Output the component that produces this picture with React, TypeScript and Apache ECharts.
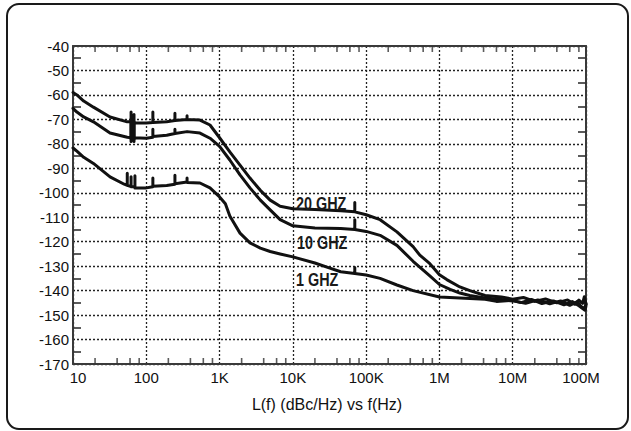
import React, { useEffect, useRef } from "react";
import * as echarts from "echarts";

// Axis ticks / labels
const xMajorValues = [10, 100, 1e3, 1e4, 1e5, 1e6, 1e7, 1e8];
const xMajorLabels = ["10", "100", "1K", "10K", "100K", "1M", "10M", "100M"];
const xMinorFactors = [2, 4, 6, 8];
const yMin = -170;
const yMax = -40;
const yStep = 10;

// Series: [frequency Hz, L(f) dBc/Hz]
const curve20GHz: [number, number][] = [
  [10, -59], [11.3, -60], [14, -62.5], [19, -65], [32, -69], [55, -71],
  [62, -71], [62, -67], [62, -78], [62, -71],
  [68, -71.5], [68, -68], [68, -78], [68, -71.5],
  [100, -71.5],
  [123, -71.3], [123, -67], [123, -71.3],
  [190, -71],
  [246, -70.5], [246, -67.5], [246, -70.5],
  [360, -70], [360, -68.5], [360, -70],
  [540, -70.3], [740, -72.3], [1000, -77.5], [1380, -83.3], [1900, -88.7],
  [2600, -94], [3600, -99], [4900, -103], [6700, -105.5], [10000, -106.5],
  [20000, -106.8], [45000, -107.4], [70000, -107.8], [70000, -104], [70000, -107.8],
  [100000, -109], [155000, -111], [263000, -116], [437000, -122], [540000, -125.5],
  [740000, -129], [1e6, -133.5], [1.26e6, -135.5], [1.9e6, -138.5], [2.6e6, -140],
  [4.2e6, -142], [7e6, -142.6], [1e7, -143.5], [1.4e7, -142.8], [2e7, -144.4],
  [2.8e7, -143.4], [4e7, -145], [5.6e7, -143.8], [7e7, -145.6], [8e7, -143.9],
  [9e7, -145.2], [9.5e7, -142.5], [1e8, -145.5],
];

const curve10GHz: [number, number][] = [
  [10, -65.5], [11.3, -67], [14, -69], [19, -71], [32, -75.6], [55, -77.3],
  [62, -77.5], [62, -70], [62, -79], [62, -77.5],
  [68, -77.5], [68, -71], [68, -79], [68, -77.5],
  [100, -77.7],
  [123, -77.3], [123, -74], [123, -77],
  [190, -76.5],
  [246, -75.8], [246, -74], [246, -75.8],
  [360, -75], [540, -75.6], [740, -77.7], [1000, -81], [1380, -86.6], [1900, -92.7],
  [2600, -98], [3600, -103], [4900, -107], [6700, -111], [10000, -113.5],
  [20000, -114.4], [45000, -114.6], [70000, -115], [70000, -111], [70000, -115],
  [100000, -115.8], [155000, -117.4], [263000, -121.5], [437000, -128], [740000, -134],
  [1e6, -137.5], [1.4e6, -139.5], [1.9e6, -141], [2.6e6, -142], [4.2e6, -143],
  [7e6, -143.6], [1e7, -144.2], [1.5e7, -145.2], [2.2e7, -143.8], [3.2e7, -145.4],
  [4.5e7, -144.2], [6e7, -146], [7.5e7, -144.6], [8.5e7, -146.4], [9.5e7, -147.5], [1e8, -145.5],
];

const curve1GHz: [number, number][] = [
  [10, -81.7], [11.3, -83], [14, -85.5], [19, -88], [32, -93.5], [50, -96.5],
  [55, -97], [55, -92], [55, -97],
  [62, -97.5], [62, -93.5], [62, -97.5],
  [70, -97.5], [70, -93], [70, -98],
  [100, -98],
  [123, -97.5], [123, -94], [123, -97.3],
  [190, -97],
  [246, -96.5], [246, -92.8], [246, -96.3],
  [360, -95.6], [360, -94], [360, -95.8],
  [540, -96], [740, -98], [1000, -101.7], [1200, -104.5], [1380, -109.5], [1900, -116.5],
  [2600, -120.5], [3600, -122.6], [4900, -124], [6700, -125], [10000, -126.2],
  [20000, -128.7], [32000, -130.8], [45000, -132.3], [70000, -133], [70000, -130.5],
  [70000, -133], [100000, -133.6], [155000, -135], [263000, -137.7], [437000, -140],
  [1e6, -142.6], [1.9e6, -143], [4.2e6, -143.5], [6e6, -144.4], [1e7, -144],
  [1.3e7, -144.9], [1.8e7, -143.6], [2.5e7, -145.3], [3.6e7, -144.2], [5e7, -145.8],
  [6.5e7, -144.5], [8e7, -146.2], [9.7e7, -148], [1e8, -146],
];

const curveLabels = ["20 GHZ", "10 GHZ", "1 GHZ"];
const axisTitle = "L(f) (dBc/Hz) vs f(Hz)";

const FONT = '"Liberation Sans", Arial, sans-serif';
const INK = "#111";

export default function App() {
  const ref = useRef<HTMLDivElement>(null);

  useEffect(() => {
    if (!ref.current) return;
    const chart = echarts.init(ref.current, null, { renderer: "svg" });

    const minorX: number[] = [];
    for (let i = 0; i < xMajorValues.length - 1; i++) {
      for (const f of xMinorFactors) minorX.push(xMajorValues[i] * f);
    }

    const labelFor = (v: number) => {
      const idx = xMajorValues.findIndex(
        (t) => Math.abs(Math.log10(t) - Math.log10(v)) < 0.01
      );
      if (idx < 0) return "";
      if (idx === 0) return "{first|" + xMajorLabels[idx] + "}";
      if (idx === xMajorValues.length - 1) return "{last|" + xMajorLabels[idx] + "}";
      return xMajorLabels[idx];
    };

    const axisLine = { show: true, lineStyle: { color: "#3a3a3a", width: 2 } };
    const gridDots = { show: true, lineStyle: { color: "#222", width: 1.3, type: [2, 2] as any } };

    const lineSeries = (data: [number, number][]) => ({
      type: "line",
      data,
      xAxisIndex: 0,
      yAxisIndex: 0,
      showSymbol: false,
      symbol: "none",
      silent: true,
      z: 3,
      lineStyle: { color: "#111", width: 3, join: "round", cap: "round" },
    });

    const curveLabel = (text: string, x: number, y: number) => ({
      type: "text",
      silent: true,
      z: 10,
      x,
      y,
      scaleX: 0.8,
      style: {
        x: 0,
        y: 0,
        text,
        fontFamily: FONT,
        fontWeight: "bold",
        fontSize: 18,
        fill: "#1a1a1a",
        verticalAlign: "middle",
      },
    });

    chart.setOption({
      animation: false,
      backgroundColor: "#fff",
      grid: { left: 73, top: 46, right: 45, bottom: 67, containLabel: false },
      xAxis: [
        {
          type: "log",
          logBase: 10,
          min: 10,
          max: 1e8,
          splitNumber: 7,
          position: "bottom",
          axisLine,
          axisTick: { show: false },
          splitLine: gridDots,
          axisLabel: {
            formatter: labelFor,
            color: INK,
            fontFamily: FONT,
            fontSize: 15,
            margin: 6,
            rich: {
              first: { fontFamily: FONT, fontSize: 15, color: INK, padding: [0, 0, 0, 10] },
              last: { fontFamily: FONT, fontSize: 15, color: INK, padding: [0, 10, 0, 0] },
            },
          },
        },
        {
          type: "log",
          logBase: 10,
          min: 10,
          max: 1e8,
          splitNumber: 7,
          position: "top",
          axisLine,
          axisTick: { show: false },
          splitLine: { show: false },
          axisLabel: { show: false },
        },
      ],
      yAxis: [
        {
          type: "value",
          min: yMin,
          max: yMax,
          interval: yStep,
          position: "left",
          axisLine,
          axisTick: { show: false, inside: true },
          minorTick: { show: true, splitNumber: 2, length: 8, lineStyle: { color: "#333", width: 1.6 } },
          splitLine: gridDots,
          axisLabel: { color: INK, fontFamily: FONT, fontSize: 15, margin: 4 },
        },
        {
          type: "value",
          min: yMin,
          max: yMax,
          interval: yStep,
          position: "right",
          axisLine,
          axisTick: { show: false, inside: true },
          minorTick: { show: true, splitNumber: 2, length: 8, lineStyle: { color: "#333", width: 1.6 } },
          splitLine: { show: false },
          axisLabel: { show: false },
        },
      ],
      series: [
        lineSeries(curve20GHz),
        lineSeries(curve10GHz),
        lineSeries(curve1GHz),
        {
          type: "scatter",
          xAxisIndex: 0,
          yAxisIndex: 0,
          data: minorX.map((f) => [f, yMin]),
          symbol: "rect",
          symbolSize: [1.6, 6],
          symbolOffset: [0, -3],
          itemStyle: { color: "#333" },
          clip: false,
          silent: true,
          z: 2,
        },
        {
          type: "scatter",
          xAxisIndex: 0,
          yAxisIndex: 0,
          data: minorX.map((f) => [f, yMax]),
          symbol: "rect",
          symbolSize: [1.6, 6],
          symbolOffset: [0, 3],
          itemStyle: { color: "#333" },
          clip: false,
          silent: true,
          z: 2,
        },
      ],
      graphic: [
        {
          type: "rect",
          silent: true,
          z: -10,
          shape: { x: 7, y: 4, width: 621, height: 425, r: 12 },
          style: { fill: "none", stroke: "#1a1a1a", lineWidth: 2 },
        },
        curveLabel(curveLabels[0], 296, 203),
        curveLabel(curveLabels[1], 297, 242),
        curveLabel(curveLabels[2], 296, 279),
        {
          type: "text",
          silent: true,
          style: { x: 327, y: 404, text: axisTitle, fontFamily: FONT, fontSize: 16, fill: INK, align: "center", verticalAlign: "middle" },
        },
      ],
    });

    return () => chart.dispose();
  }, []);

  return (
    <div
      ref={ref}
      style={{ position: "absolute", left: 0, top: 0, width: 631, height: 431, background: "#fff" }}
    />
  );
}
